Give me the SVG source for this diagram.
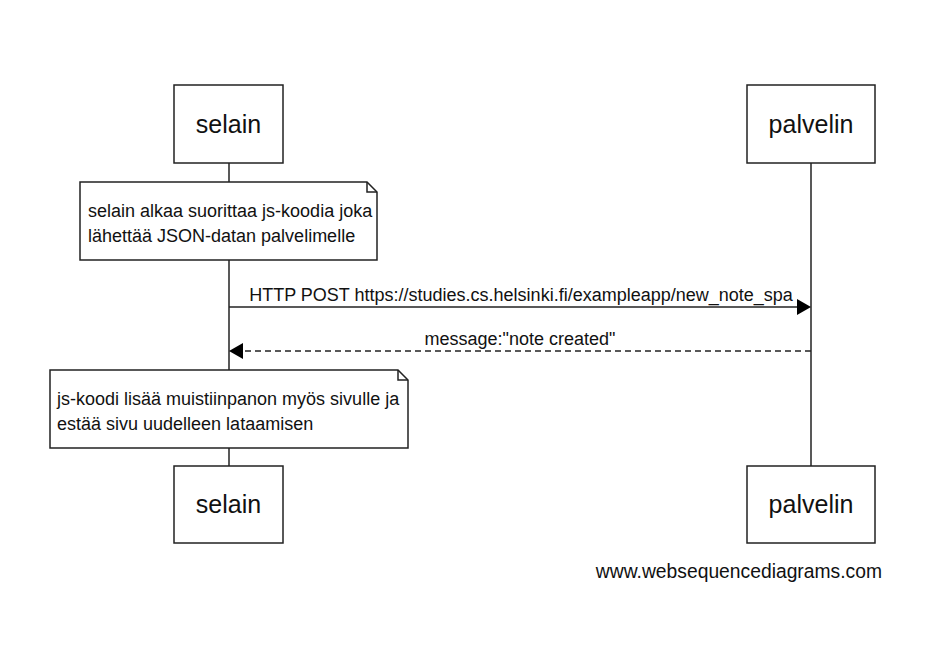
<svg xmlns="http://www.w3.org/2000/svg" width="926" height="652" viewBox="0 0 926 652">
<style>
.box{fill:#fff;stroke:#222;stroke-width:1.5}
.life{stroke:#222;stroke-width:1.5;fill:none}
.actor{font-family:"Liberation Sans",Arial,sans-serif;font-size:25px;fill:#111;text-anchor:middle}
.t{font-family:"Liberation Sans",Arial,sans-serif;font-size:18px;fill:#111}
.msg{stroke:#222;stroke-width:1.5;fill:none}
.dash{stroke-dasharray:6,4}
.head{fill:#000}
</style>
<rect width="926" height="652" fill="#fff"/>
<g id="lifelines">
<line class="life" x1="229" y1="163" x2="229" y2="466"/>
<line class="life" x1="811" y1="163" x2="811" y2="466"/>
</g>
<g id="selain-top"><rect class="box" x="174" y="85" width="109" height="78"/><text class="actor" x="228.5" y="133">selain</text></g>
<g id="palvelin-top"><rect class="box" x="747" y="85" width="128" height="78"/><text class="actor" x="811" y="133">palvelin</text></g>
<g id="selain-bottom"><rect class="box" x="174" y="466" width="109" height="77"/><text class="actor" x="228.5" y="513">selain</text></g>
<g id="palvelin-bottom"><rect class="box" x="747" y="466" width="128" height="77"/><text class="actor" x="811" y="513">palvelin</text></g>
<g id="note1">
<path class="box" d="M80,182 H367 L377,192 V260 H80 Z"/>
<path class="life" d="M367,182 V192 H377"/>
<text class="t" x="88" y="217">selain alkaa suorittaa js-koodia joka</text>
<text class="t" x="88" y="242">lähettää JSON-datan palvelimelle</text>
</g>
<g id="note2">
<path class="box" d="M50,370 H398 L408,380 V448 H50 Z"/>
<path class="life" d="M398,370 V380 H408"/>
<text class="t" x="57" y="405">js-koodi lisää muistiinpanon myös sivulle ja</text>
<text class="t" x="57" y="430">estää sivu uudelleen lataamisen</text>
</g>
<g id="connectors">
<line class="msg" x1="229" y1="307" x2="798" y2="307"/>
<polygon class="head" points="811,307 797,299 797,315"/>
<text class="t" x="521" y="301" text-anchor="middle">HTTP POST https://studies.cs.helsinki.fi/exampleapp/new_note_spa</text>
<line class="msg dash" x1="811" y1="351" x2="243" y2="351"/>
<polygon class="head" points="229,351 243,343 243,359"/>
<text class="t" x="520" y="345" text-anchor="middle">message:"note created"</text>
</g>
<text class="t" x="882" y="578" text-anchor="end" style="font-size:19.3px">www.websequencediagrams.com</text>
</svg>
